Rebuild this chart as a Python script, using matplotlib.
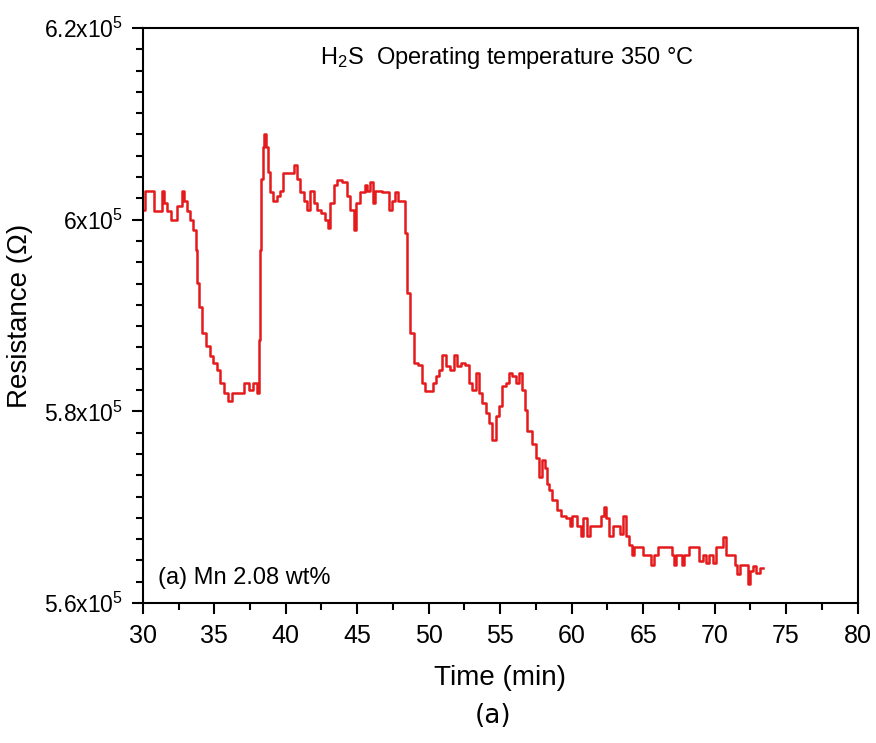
import numpy as np
import matplotlib
matplotlib.use("Agg")
import matplotlib.pyplot as plt
from matplotlib.ticker import MultipleLocator, AutoMinorLocator, FuncFormatter

plt.rcParams['font.family'] = ['Liberation Sans', 'DejaVu Sans']
plt.rcParams['mathtext.default'] = 'regular'

# Czas [min] i rezystancja [Ohm]
czas = [30.02, 30.26, 30.72, 30.84, 31.31, 31.43, 31.54, 31.89, 32.01, 32.36,
        32.48, 32.71, 32.83, 32.95, 33.18, 33.41, 33.65, 33.76, 33.88, 34.00,
        34.23, 34.58, 34.82, 35.05, 35.28, 35.52, 35.87, 36.10, 36.33, 37.04,
        37.15, 37.39, 37.50, 37.85, 38.09, 38.16, 38.25, 38.32, 38.44, 38.56,
        38.67, 38.79, 39.02, 39.26, 39.49, 39.72, 39.96, 40.54, 40.66, 40.89,
        41.13, 41.36, 41.59, 41.83, 42.06, 42.30, 42.65, 42.88, 43.00, 43.23,
        43.47, 43.70, 44.17, 44.40, 44.64, 44.87, 44.99, 45.45, 45.57, 45.80,
        46.04, 46.16, 46.39, 47.09, 47.32, 47.56, 47.79, 47.91, 48.26, 48.37,
        48.61, 48.84, 49.07, 49.42, 49.66, 49.78, 50.24, 50.36, 50.59, 50.83,
        51.06, 51.29, 51.64, 51.88, 52.11, 52.34, 52.69, 52.93, 53.16, 53.40,
        53.63, 53.87, 54.10, 54.33, 54.57, 54.80, 55.03, 55.27, 55.50, 55.74,
        55.97, 56.20, 56.44, 56.67, 56.79, 57.02, 57.37, 57.60, 57.84, 58.07,
        58.19, 58.31, 58.54, 58.77, 59.12, 59.36, 59.82, 59.94, 60.17, 60.52,
        60.76, 60.87, 61.22, 61.34, 61.92, 62.16, 62.32, 62.51, 62.74, 62.98,
        63.33, 63.44, 63.68, 63.91, 64.15, 64.26, 64.50, 64.85, 65.08, 65.43,
        65.67, 65.90, 66.13, 66.95, 67.07, 67.19, 67.42, 67.65, 67.77, 68.00,
        68.47, 68.82, 69.05, 69.29, 69.52, 69.75, 69.99, 70.22, 70.46, 70.69,
        70.93, 71.39, 71.51, 71.63, 71.86, 72.33, 72.37, 72.56, 72.79, 73.03,
        73.38]
rezystancja = [601050, 603030, 603030, 600860, 600860, 603030, 601760, 600860, 600000, 600000,
               601410, 601410, 603030, 601950, 600860, 600000, 598930, 596840, 593360, 590940,
               588160, 586770, 585730, 585030, 584340, 582950, 581910, 581040, 581910, 581910,
               582950, 582950, 582260, 582950, 581910, 587470, 596840, 604290, 607540, 608970,
               607540, 605010, 602840, 601950, 602490, 603030, 604830, 604830, 605730, 604290,
               602840, 601950, 601050, 603030, 601760, 601050, 600680, 600000, 599090, 601760,
               603570, 604110, 603930, 602490, 601050, 598930, 601760, 602840, 603570, 603030,
               603930, 601760, 603030, 602840, 601050, 601950, 602840, 601950, 601950, 598570,
               592320, 588160, 585030, 584860, 582950, 582080, 582080, 582950, 583650, 584340,
               585900, 584690, 584340, 585900, 584690, 585030, 584860, 582950, 582260, 583990,
               581910, 580870, 579830, 578820, 576970, 579490, 580520, 582600, 582950, 583990,
               583650, 582950, 583990, 582260, 580170, 577980, 576630, 575120, 573100, 574950,
               574110, 572420, 571750, 570740, 569730, 569060, 568890, 568050, 569060, 568050,
               567040, 568890, 567040, 568050, 568050, 569060, 570070, 568890, 567040, 568050,
               568050, 567210, 569060, 567040, 566030, 565020, 565860, 565860, 565020, 565020,
               564010, 565020, 565860, 565860, 565020, 564010, 565020, 565020, 564010, 565020,
               565860, 565860, 564340, 565020, 564180, 565020, 564180, 565860, 565860, 566870,
               565020, 565020, 564010, 563000, 564010, 564010, 561990, 563330, 563840, 563170,
               563670]

xticks = [30, 35, 40, 45, 50, 55, 60, 65, 70, 75, 80]
yticks = [5.6e5, 5.8e5, 6.0e5, 6.2e5]
ytick_labels = ['5.6x10$^{5}$', '5.8x10$^{5}$', '6x10$^{5}$', '6.2x10$^{5}$']

fig = plt.figure(figsize=(8.76, 7.43), dpi=100)
ax = fig.add_axes([0.163, 0.1884, 0.816, 0.7739])

ax.plot(czas, rezystancja, color='#e41a1c', lw=1.8, drawstyle='steps-mid')

ax.set_xlim(30, 80)
ax.set_ylim(5.6e5, 6.2e5)
ax.set_xticks(xticks)
ax.set_yticks(yticks)
ax.set_yticklabels(ytick_labels)
ax.xaxis.set_minor_locator(AutoMinorLocator(2))
ax.yaxis.set_minor_locator(AutoMinorLocator(9))

ax.tick_params(which='both', direction='out', width=1.5, top=False, right=False)
ax.tick_params(which='major', length=8)
ax.tick_params(which='minor', length=5)
ax.tick_params(axis='x', labelsize=18, pad=7)
ax.tick_params(axis='y', labelsize=16.5, pad=6)
for s in ax.spines.values():
    s.set_linewidth(1.5)

ax.set_xlabel('Time (min)', fontsize=20, labelpad=12)
ax.set_ylabel('Resistance (\u03a9)', fontsize=20, labelpad=8)

ax.text(0.51, 0.947, 'H$_{2}$S  Operating temperature 350 \u00b0C', transform=ax.transAxes,
        ha='center', va='center', fontsize=17)
ax.text(0.021, 0.043, '(a) Mn 2.08 wt%', transform=ax.transAxes,
        ha='left', va='center', fontsize=17)

fig.text(0.563, 0.037, '(a)', ha='center', va='center', fontsize=19, family='DejaVu Sans')

fig.savefig('out.png', dpi=100)
